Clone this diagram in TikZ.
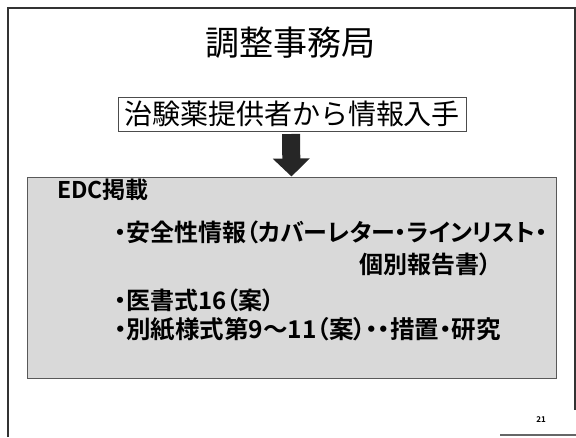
\documentclass[tikz,border=0pt]{standalone}
\usepackage{fontspec}
\usetikzlibrary{arrows.meta}
\newfontfamily\jpfont{Noto Sans CJK JP}
\newfontfamily\jpbold[RawFeature=+palt]{Noto Sans CJK JP Bold}
\begin{document}
\begin{tikzpicture}[x=1pt,y=-1pt,
  frameline/.style={line width=2pt, black!80},
  srcbox/.style={draw=black!70, line width=0.6pt, inner sep=0pt, minimum width=348pt, minimum height=34pt, font=\jpfont\fontsize{28}{30}\selectfont},
  graybox/.style={draw=black!65, line width=1pt, fill=black!15, minimum width=529pt, minimum height=201pt, inner sep=0pt},
  itemtext/.style={anchor=west, inner sep=0pt, font=\jpbold\fontsize{24}{26}\selectfont},
  bigarrow/.style={-{Triangle[width=36pt,length=18pt]}, line width=18pt, black!85}
]
\useasboundingbox (0,0) rectangle (576,437);
% slide frame
\draw[frameline] (8,437) -- (8,8) -- (575,8) -- (575,410);
\draw[line width=1.5pt, black!60] (500,435) -- (576,435);

\node[font=\jpfont\fontsize{34}{36}\selectfont] (title) at (290,43) {調整事務局};
\node[srcbox] (src) at (292,114) {治験薬提供者から情報入手};
\node[graybox] (edc) at (291.5,277.5) {};
\draw[bigarrow] (291,134) coordinate (as) -- (edc.north);

\node[itemtext, font=\jpbold\fontsize{23}{27}\selectfont] (head) at (57,190) {EDC掲載};
\node[itemtext] (i1) at (114,232) {・安全性情報（カバーレター・ラインリスト・};
\node[itemtext, anchor=east] (i1b) at (492,264) {個別報告書）};
\node[itemtext] (i2) at (114,300) {・医書式16（案）};
\node[itemtext, font=\jpbold\fontsize{24.5}{26}\selectfont] (i3) at (114,329) {・別紙様式第9～11（案）・・措置・研究};

\node[font=\jpbold\fontsize{8}{9}\selectfont] (pg) at (541,420) {21};
\end{tikzpicture}
\end{document}
